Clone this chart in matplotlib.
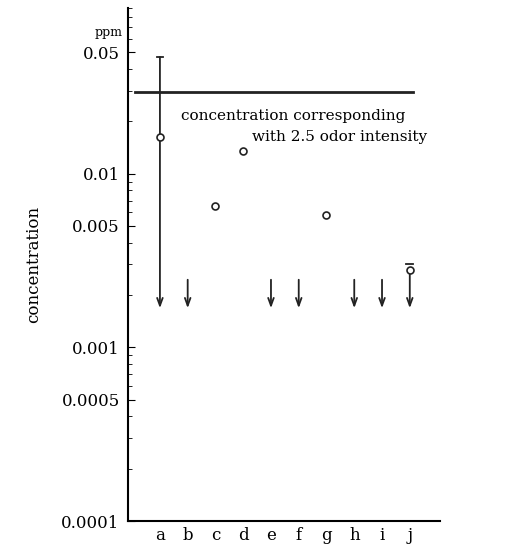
import numpy as np
import matplotlib.pyplot as plt

plt.rcParams['font.family'] = ['DejaVu Serif']

# categories and readings (ppm)
cats = ['a', 'b', 'c', 'd', 'e', 'f', 'g', 'h', 'i', 'j']
# measured mean (None = not detected)
means = [0.0163, None, 0.0065, 0.0135, None, None, 0.0058, None, None, 0.0028]
# upper end of range shown as a cap
upper = [0.047, None, None, None, None, None, None, None, None, 0.003]
# "below detection" arrows: start and tip
arrow_from = [0.047, 0.00245, None, None, 0.00245, 0.00245, None, 0.00245, 0.00245, 0.0028]
arrow_to = [0.00168, 0.00168, None, None, 0.00168, 0.00168, None, 0.00168, 0.00168, 0.00168]
threshold = 0.0294  # 2.5 odor intensity

yticks = [0.05, 0.01, 0.005, 0.001, 0.0005, 0.0001]
ytick_labels = ['0.05', '0.01', '0.005', '0.001', '0.0005', '0.0001']

fig = plt.figure(figsize=(5.12, 5.47), dpi=100)
ax = fig.add_axes([0.25, 0.0475, 0.61, 0.938])
x = np.arange(len(cats))
col = '#222222'

for i in range(len(cats)):
    if arrow_from[i] is not None:
        ax.annotate('', xy=(x[i], arrow_to[i]), xytext=(x[i], arrow_from[i]),
                    arrowprops=dict(arrowstyle='->,head_length=0.55,head_width=0.2',
                                    color=col, lw=1.3, shrinkA=0, shrinkB=0))
    if upper[i] is not None:
        ax.plot([x[i]-0.12, x[i]+0.12], [upper[i], upper[i]], color=col, lw=1.3)
    if means[i] is not None:
        ax.plot(x[i], means[i], 'o', ms=5, mfc='white', mec=col, mew=1.2, zorder=5)

ax.plot([-0.9, 9.1], [threshold, threshold], color=col, lw=2)
ax.text(0.75, 0.0215, 'concentration corresponding', fontsize=11, ha='left', va='center')
ax.text(3.3, 0.0163, 'with 2.5 odor intensity', fontsize=11, ha='left', va='center')

ax.set_yscale('log')
ax.set_ylim(0.0001, 0.09)
ax.set_xlim(-1.15, 10.1)
ax.set_yticks(yticks)
ax.set_yticklabels(ytick_labels, fontsize=12)
ax.set_xticks(x)
ax.set_xticklabels(cats, fontsize=12)
ax.tick_params(axis='x', length=0, pad=4)
ax.tick_params(axis='y', which='major', direction='in', length=5, pad=6)
ax.tick_params(axis='y', which='minor', direction='in', length=3)
ax.spines['top'].set_visible(False)
ax.spines['right'].set_visible(False)
ax.spines['left'].set_linewidth(1.5)
ax.spines['bottom'].set_linewidth(1.5)

ax.set_ylabel('concentration', fontsize=12, labelpad=14)
fig.text(0.185, 0.935, 'ppm', fontsize=9)

fig.savefig('out.png', dpi=100)
